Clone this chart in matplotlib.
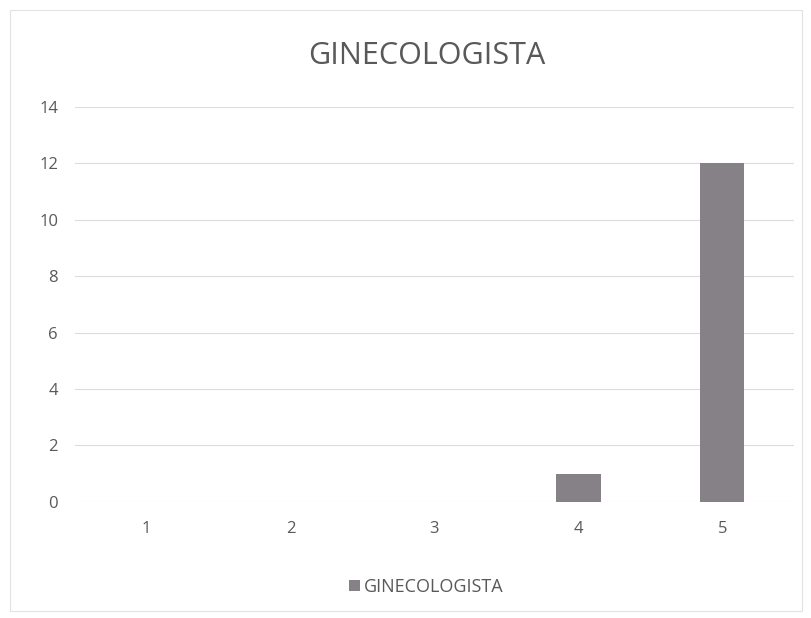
import matplotlib.pyplot as plt
from matplotlib.patches import Rectangle

plt.rcParams['font.family'] = ['Open Sans', 'DejaVu Sans']

# Data
categories = ['1', '2', '3', '4', '5']
values = [0, 0, 0, 1, 12]
series_name = 'GINECOLOGISTA'

BAR_COLOR = '#858186'
TEXT_COLOR = '#595959'
GRID_COLOR = '#dcdcdc'

fig = plt.figure(figsize=(8.12, 6.18), dpi=100)
ax = fig.add_axes([0.092, 0.188, 0.886, 0.639])

x = range(len(categories))
ax.bar(x, values, width=0.31, color=BAR_COLOR, label=series_name, zorder=3)

ax.set_xlim(-0.5, len(categories) - 0.5)
ax.set_ylim(0, 14)
ax.set_yticks(range(0, 15, 2))
ax.set_xticks(list(x))
ax.set_xticklabels(categories)
ax.tick_params(length=0, colors=TEXT_COLOR, labelsize=12)
ax.tick_params(axis='x', pad=14)
ax.tick_params(axis='y', pad=12)
ax.grid(axis='y', color=GRID_COLOR, linewidth=0.8, zorder=0)
for s in ax.spines.values():
    s.set_visible(False)

fig.text(0.526, 0.91, series_name, fontsize=22, color=TEXT_COLOR,
         ha='center', va='center')

leg = fig.legend(loc='center', bbox_to_anchor=(0.525, 0.05), frameon=False,
                 fontsize=13, handlelength=0.6, handleheight=0.6,
                 handletextpad=0.25)
for t in leg.get_texts():
    t.set_color(TEXT_COLOR)

# faint chart border
fig.patches.append(Rectangle((0.012, 0.012), 0.976, 0.972, transform=fig.transFigure,
                             fill=False, edgecolor='#e2e2e2', linewidth=0.8))

plt.savefig('out.png', dpi=100, facecolor='white')
